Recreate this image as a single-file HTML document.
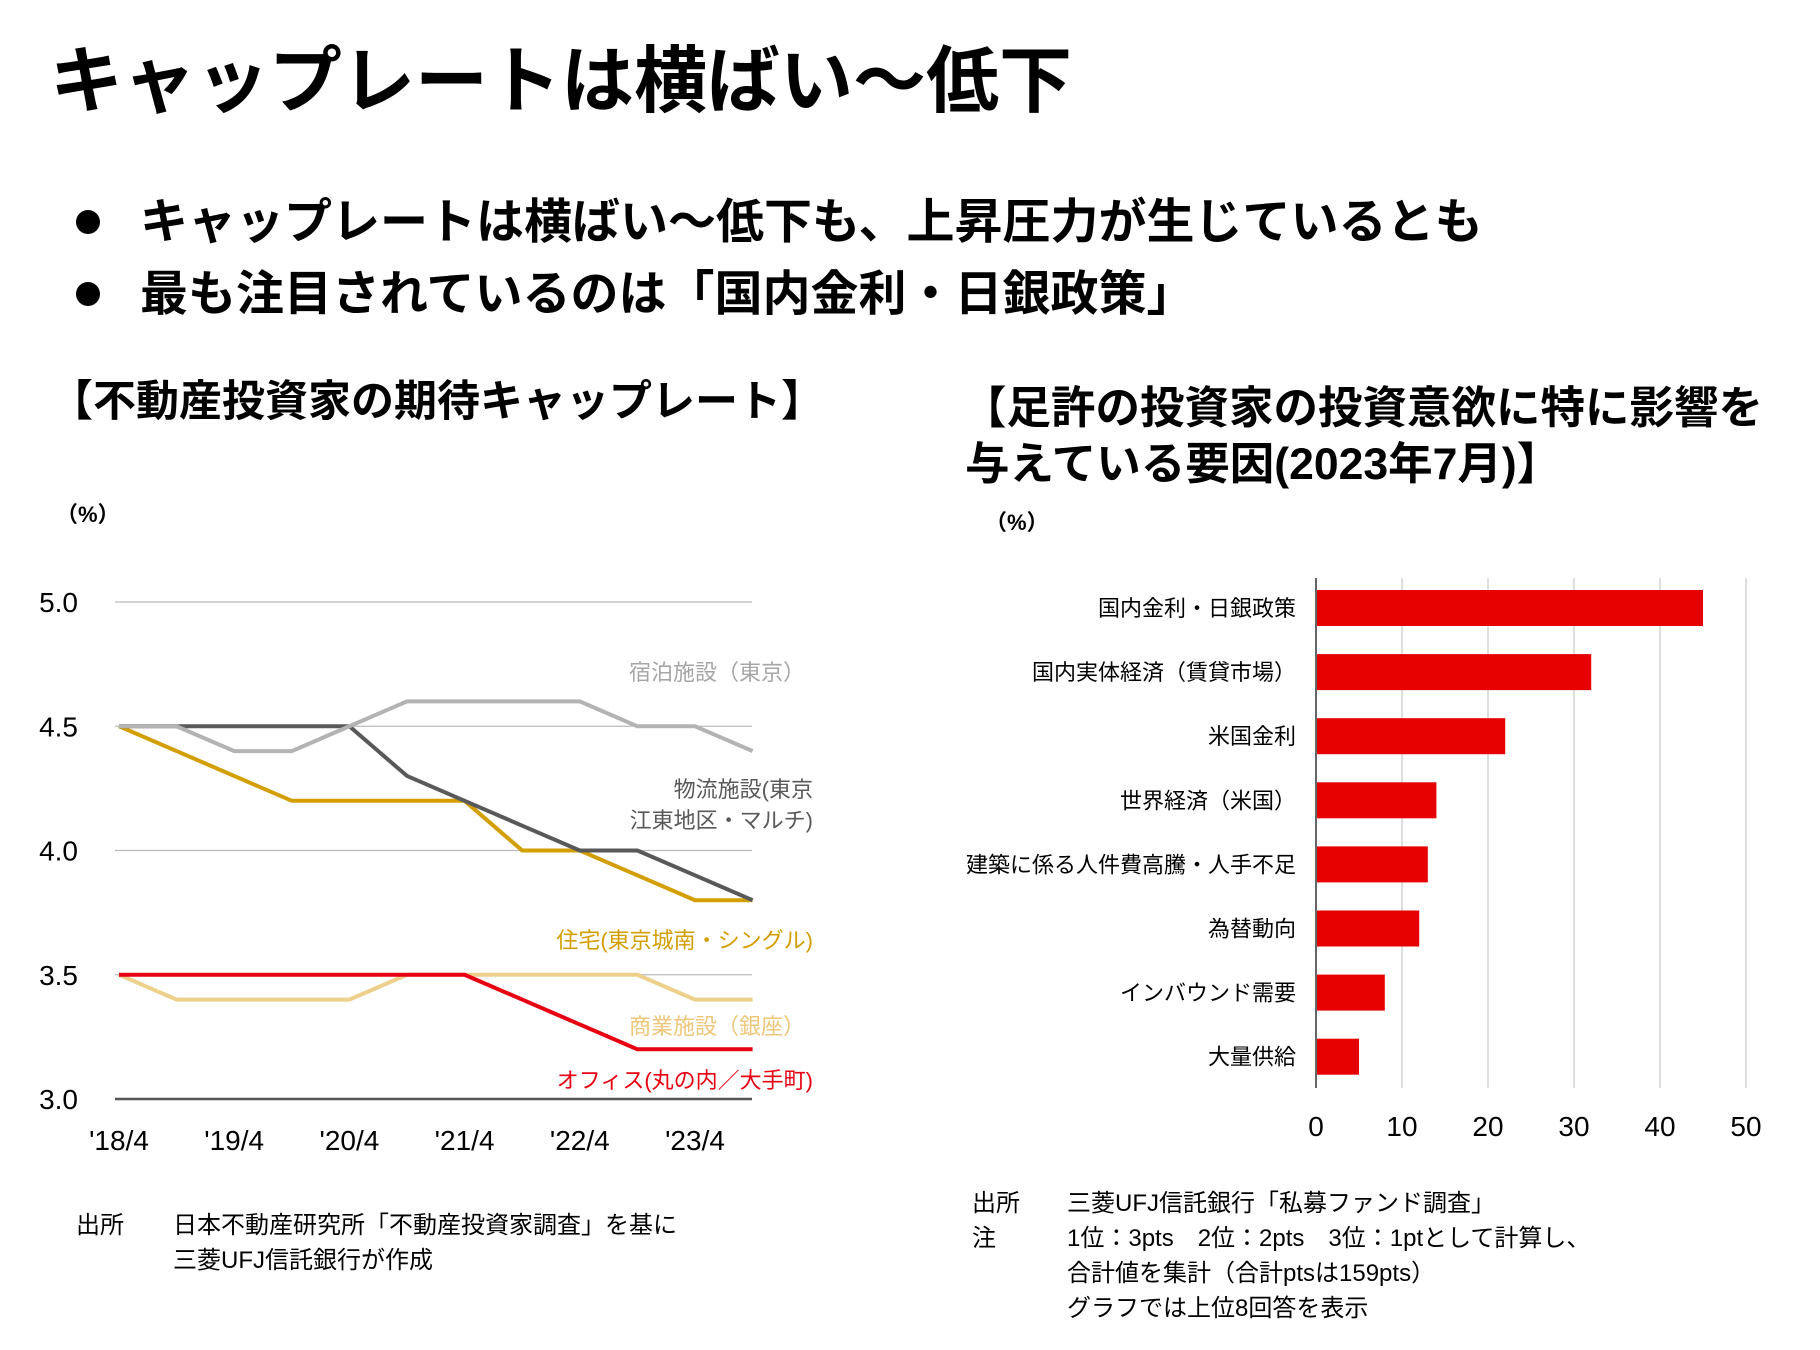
<!DOCTYPE html>
<html><head><meta charset="utf-8">
<style>
body{margin:0;background:#fff;}
svg{display:block;font-family:"Liberation Sans","Noto Sans CJK JP",sans-serif;}
</style></head>
<body>
<svg id="root" width="1820" height="1350" viewBox="0 0 1820 1350" xmlns="http://www.w3.org/2000/svg">
<text x="50" y="106" font-size="73" font-weight="bold" fill="#000">キャップレートは横ばい～低下</text>
<circle cx="88" cy="222" r="12" fill="#000"/>
<text x="140" y="238" font-size="48" font-weight="bold">キャップレートは横ばい～低下も、上昇圧力が生じているとも</text>
<circle cx="88" cy="294" r="12" fill="#000"/>
<text x="140" y="310" font-size="48" font-weight="bold">最も注目されているのは「国内金利・日銀政策」</text>
<text x="50" y="416" font-size="43" font-weight="bold">【不動産投資家の期待キャップレート】</text>
<text x="962" y="423" font-size="44.5" font-weight="bold">【足許の投資家の投資意欲に特に影響を</text>
<text x="965" y="479" font-size="44.5" font-weight="bold">与えている要因(2023年7月)】</text>
<text x="56" y="522" font-size="22" font-weight="bold">（%）</text>
<text x="985" y="530" font-size="22" font-weight="bold">（%）</text>
<g id="left"></g>
<g id="right"></g>
<g font-size="24">
<text x="76" y="1233">出所</text>
<text x="173" y="1233">日本不動産研究所「不動産投資家調査」を基に</text>
<text x="173" y="1268">三菱UFJ信託銀行が作成</text>
</g>
<g font-size="24">
<text x="972" y="1211">出所</text>
<text x="1067" y="1211">三菱UFJ信託銀行「私募ファンド調査」</text>
<text x="972" y="1246">注</text>
<text x="1067" y="1246">1位：3pts　2位：2pts　3位：1ptとして計算し、</text>
<text x="1067" y="1281">合計値を集計（合計ptsは159pts）</text>
<text x="1067" y="1316">グラフでは上位8回答を表示</text>
</g>
</svg>
<script>
const xLabels=["'18/4","'19/4","'20/4","'21/4","'22/4","'23/4"];
const yTicks=[5.0,4.5,4.0,3.5,3.0];
const hotel=[4.5,4.5,4.4,4.4,4.5,4.6,4.6,4.6,4.6,4.5,4.5,4.4];
const logistics=[4.5,4.5,4.5,4.5,4.5,4.3,4.2,4.1,4.0,4.0,3.9,3.8];
const housing=[4.5,4.4,4.3,4.2,4.2,4.2,4.2,4.0,4.0,3.9,3.8,3.8];
const retail=[3.5,3.4,3.4,3.4,3.4,3.5,3.5,3.5,3.5,3.5,3.4,3.4];
const office=[3.5,3.5,3.5,3.5,3.5,3.5,3.5,3.4,3.3,3.2,3.2,3.2];
const categories=["国内金利・日銀政策","国内実体経済（賃貸市場）","米国金利","世界経済（米国）","建築に係る人件費高騰・人手不足","為替動向","インバウンド需要","大量供給"];
const points=[45,32,22,14,13,12,8,5];
const xTicks=[0,10,20,30,40,50];
const NS="http://www.w3.org/2000/svg";
function mk(tag,attrs,parent,txt){const e=document.createElementNS(NS,tag);for(const k in attrs)e.setAttribute(k,attrs[k]);if(txt!==undefined)e.textContent=txt;parent.appendChild(e);return e;}
const L=document.getElementById('left');
const lx0=119,lstep=57.6,ly=v=>602+(5.0-v)/2.0*(1099-602);
const lxi=i=>lx0+i*lstep;
yTicks.forEach(v=>{
 const g=mk('line',{x1:115,x2:752,y1:ly(v),y2:ly(v),stroke:v===3.0?'#555':'#bbb','stroke-width':v===3.0?2.5:1.2},L);
 
 
 const t=mk('text',{x:78,y:ly(v)+10,'font-size':28,'text-anchor':'end'},L,v.toFixed(1));
 
 
});
xLabels.forEach((s,i)=>{
 const t=mk('text',{x:lxi(i*2),y:1150,'font-size':28,'text-anchor':'middle'},L,s);
 
 
});
function line(arr,color,name){
 const p=mk('polyline',{points:arr.map((v,i)=>lxi(i)+','+ly(v)).join(' '),fill:'none',stroke:color,'stroke-width':4,'stroke-linejoin':'miter'},L);
 
 
}
line(retail,'#edd08b','line-retail');
line(office,'#e60012','line-office');
line(housing,'#d39e00','line-housing');
line(logistics,'#595959','line-logistics');
line(hotel,'#b3b3b3','line-hotel');
[["宿泊施設（東京）",805,680,'#a6a6a6'],["物流施設(東京",813,797,'#595959'],["江東地区・マルチ)",813,828,'#595959'],["住宅(東京城南・シングル)",813,948,'#d39e00'],["商業施設（銀座）",805,1034,'#edc77a'],["オフィス(丸の内／大手町)",813,1088,'#e60012']].forEach(a=>{
 const t=mk('text',{x:a[1],y:a[2],'font-size':22,'text-anchor':'end',fill:a[3]},L,a[0]);
 
 
});
const R=document.getElementById('right');
const rx=v=>1316+v/50*(1746-1316);
const rowY=i=>608+i*64.1;
xTicks.forEach(v=>{
 const g=mk('line',{x1:rx(v),x2:rx(v),y1:578,y2:1088,stroke:v===0?'#666':'#c8c8c8','stroke-width':v===0?2:1.2},R);
 
 
 const t=mk('text',{x:rx(v),y:1136,'font-size':28,'text-anchor':'middle'},R,String(v));
 
 
});
categories.forEach((c,i)=>{
 const b=mk('rect',{x:rx(0)+1,y:rowY(i)-18,width:rx(points[i])-rx(0)-1,height:36,fill:'#e60000'},R);
 
 
 const t=mk('text',{x:1296,y:rowY(i)+8,'font-size':22,'text-anchor':'end'},R,c);
 
 
});
</script>
</body></html>
